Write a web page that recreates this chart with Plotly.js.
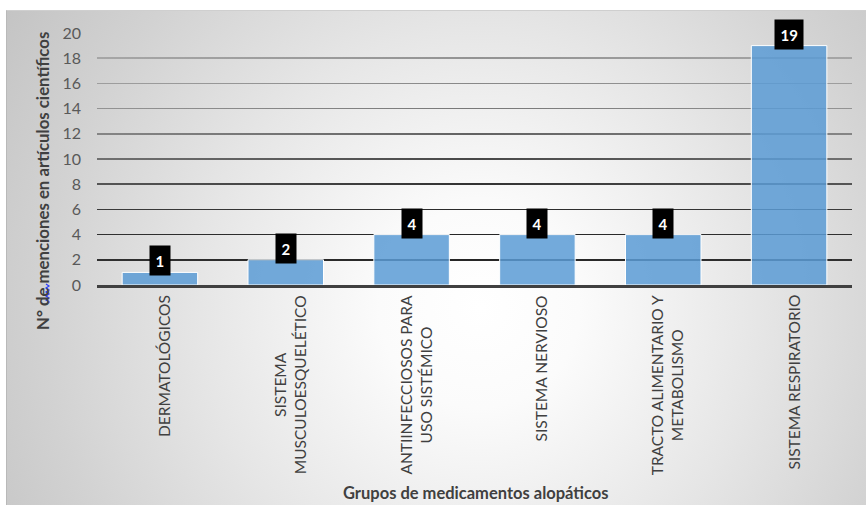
<!DOCTYPE html>
<html>
<head>
<meta charset="utf-8">
<script src="https://cdn.plot.ly/plotly-3.0.1.min.js"></script>
<style>
  html, body { margin: 0; padding: 0; background: #ffffff; }
  #wrap { position: relative; width: 866px; height: 505px; overflow: hidden; }
  #panel {
    position: absolute; left: 6px; top: 10px; width: 859px; height: 494px;
    border-left: 1px solid #b9b9b9; border-top: 1px solid #cfcfcf;
    background: radial-gradient(circle farthest-corner at 55% 60%,
      #ffffff 0%, #fbfbfb 18%, #e6e6e6 50%, #d2d2d2 78%, #c4c4c4 100%);
  }
  #chart { position: absolute; left: 0; top: 0; width: 866px; height: 505px; }
</style>
</head>
<body>
<div id="wrap">
  <div id="panel"></div>
  <div id="chart"></div>
</div>
<script>
// Grupos de medicamentos alopáticos y número de menciones
const categories = [
  "DERMATOLÓGICOS",
  "SISTEMA MUSCULOESQUELÉTICO",
  "ANTIINFECCIOSOS PARA USO SISTÉMICO",
  "SISTEMA NERVIOSO",
  "TRACTO ALIMENTARIO Y METABOLISMO",
  "SISTEMA RESPIRATORIO"
];
const categoryLabels = [
  "DERMATOLÓGICOS",
  "SISTEMA<br>MUSCULOESQUELÉTICO",
  "ANTIINFECCIOSOS PARA<br>USO SISTÉMICO",
  "SISTEMA NERVIOSO",
  "TRACTO ALIMENTARIO Y<br>METABOLISMO",
  "SISTEMA RESPIRATORIO"
];
const menciones = [1, 2, 4, 4, 4, 19];
const yTicks = [0, 2, 4, 6, 8, 10, 12, 14, 16, 18, 20];

const yTitle = "N° de menciones en artículos científicos";
const xTitle = "Grupos de medicamentos alopáticos";

// gridline shading per tick value: [colour at the ends, colour in the middle]
const gridShade = {
  2: ["#303030", "#262626"], 4: ["#303030", "#262626"], 6: ["#3a3a3a", "#2a2a2a"],
  8: ["#555555", "#333333"], 10: ["#707070", "#484848"], 12: ["#858585", "#626262"],
  14: ["#939393", "#787878"], 16: ["#9e9e9e", "#888888"], 18: ["#a6a6a6", "#939393"],
  20: ["#adadad", "#9c9c9c"]
};

const FONT = "Lato, 'Open Sans', sans-serif";

const W = 866, H = 505;
const margin = { l: 97, r: 14, t: 33, b: 220 };
const plotW = W - margin.l - margin.r;
const plotH = H - margin.t - margin.b;
// pixel -> paper helpers for decorations placed outside the plot area
const px = x => (x - margin.l) / plotW;
const py = y => (H - margin.b - y) / plotH;

const trace = {
  type: "bar",
  x: categories,
  y: menciones,
  width: 0.6,
  marker: {
    color: "rgba(91,155,213,0.85)",
    line: { color: "#ffffff", width: 1 }
  },
  hoverinfo: "x+y"
};

// value boxes above each bar
const valueLabels = categories.map((c, i) => ({
  x: c, y: menciones[i], xref: "x", yref: "y",
  text: String(menciones[i]),
  showarrow: false,
  xanchor: "center", yanchor: "bottom", yshift: -4,
  bgcolor: "#000000", borderpad: 5.5,
  font: { family: FONT, size: 15, color: "#ffffff", weight: 700 }
}));

// rotated category names under the axis
const catLabels = categories.map((c, i) => ({
  x: c, y: 0, xref: "x", yref: "paper",
  text: categoryLabels[i],
  showarrow: false,
  textangle: -90,
  align: "center",
  xanchor: "center", yanchor: "top",
  xshift: 4, yshift: -8,
  font: { family: FONT, size: 15.5, color: "#404040" }
}));

const titles = [
  {
    text: "<b>" + yTitle + "</b>",
    xref: "paper", yref: "paper", x: px(42), y: py(181),
    xanchor: "center", yanchor: "middle", textangle: -90, showarrow: false,
    font: { family: FONT, size: 16.8, color: "#404040" }
  },
  {
    text: "<b>" + xTitle + "</b>",
    xref: "paper", yref: "paper", x: px(476), y: py(493),
    xanchor: "center", yanchor: "middle", showarrow: false,
    font: { family: FONT, size: 16.5, color: "#404040" }
  }
];

// small blue wavy underline under "de" in the axis title
let wave = "";
for (let k = 0; k <= 10; k++) {
  const yy = 284 + k * 2;
  const xx = (k % 2 === 0) ? 46 : 49;
  wave += (k === 0 ? "M " : " L ") + px(xx).toFixed(5) + "," + py(yy).toFixed(5);
}

const layout = {
  width: W, height: H,
  margin: margin,
  paper_bgcolor: "rgba(0,0,0,0)",
  plot_bgcolor: "rgba(0,0,0,0)",
  showlegend: false,
  bargap: 0.4,
  font: { family: FONT },
  xaxis: {
    type: "category",
    range: [-0.5, categories.length - 0.5],
    showticklabels: false,
    showgrid: false,
    zeroline: false,
    showline: true,
    linecolor: "#404040",
    linewidth: 3,
    ticks: "",
    fixedrange: true
  },
  yaxis: {
    range: [0, 20],
    tickvals: yTicks,
    ticktext: yTicks.map(String),
    showgrid: true,
    gridcolor: "#555555",
    gridwidth: 1.5,
    zeroline: false,
    showline: false,
    ticks: "",
    ticklabelstandoff: 15,
    tickfont: { family: FONT, size: 16, color: "#595959" },
    fixedrange: true
  },
  annotations: valueLabels.concat(catLabels, titles),
  shapes: [{
    type: "path", xref: "paper", yref: "paper",
    path: wave,
    line: { color: "#2a3cff", width: 1.2 }
  }]
};

Plotly.newPlot("chart", [trace], layout, { displayModeBar: false, staticPlot: true })
  .then(gd => {
    // shade each gridline: darker in the middle, lighter toward both ends
    const svg = gd.querySelector("svg.main-svg");
    const NS = "http://www.w3.org/2000/svg";
    let defs = svg.querySelector("defs");
    if (!defs) { defs = document.createElementNS(NS, "defs"); svg.insertBefore(defs, svg.firstChild); }
    gd.querySelectorAll("path.ygrid").forEach((p, idx) => {
      const v = p.__data__ && p.__data__.x !== undefined ? Math.round(p.__data__.x) : null;
      const shade = gridShade[v];
      if (!shade) return;
      const bb = p.getBBox();
      const id = "gridShade" + idx;
      const g = document.createElementNS(NS, "linearGradient");
      g.setAttribute("id", id);
      g.setAttribute("gradientUnits", "userSpaceOnUse");
      g.setAttribute("x1", bb.x); g.setAttribute("x2", bb.x + bb.width);
      g.setAttribute("y1", bb.y); g.setAttribute("y2", bb.y);
      [["0", shade[0]], ["0.5", shade[1]], ["1", shade[0]]].forEach(([o, c]) => {
        const s = document.createElementNS(NS, "stop");
        s.setAttribute("offset", o); s.setAttribute("stop-color", c);
        g.appendChild(s);
      });
      defs.appendChild(g);
      p.style.stroke = "url(#" + id + ")";
    });
  });
</script>
</body>
</html>
